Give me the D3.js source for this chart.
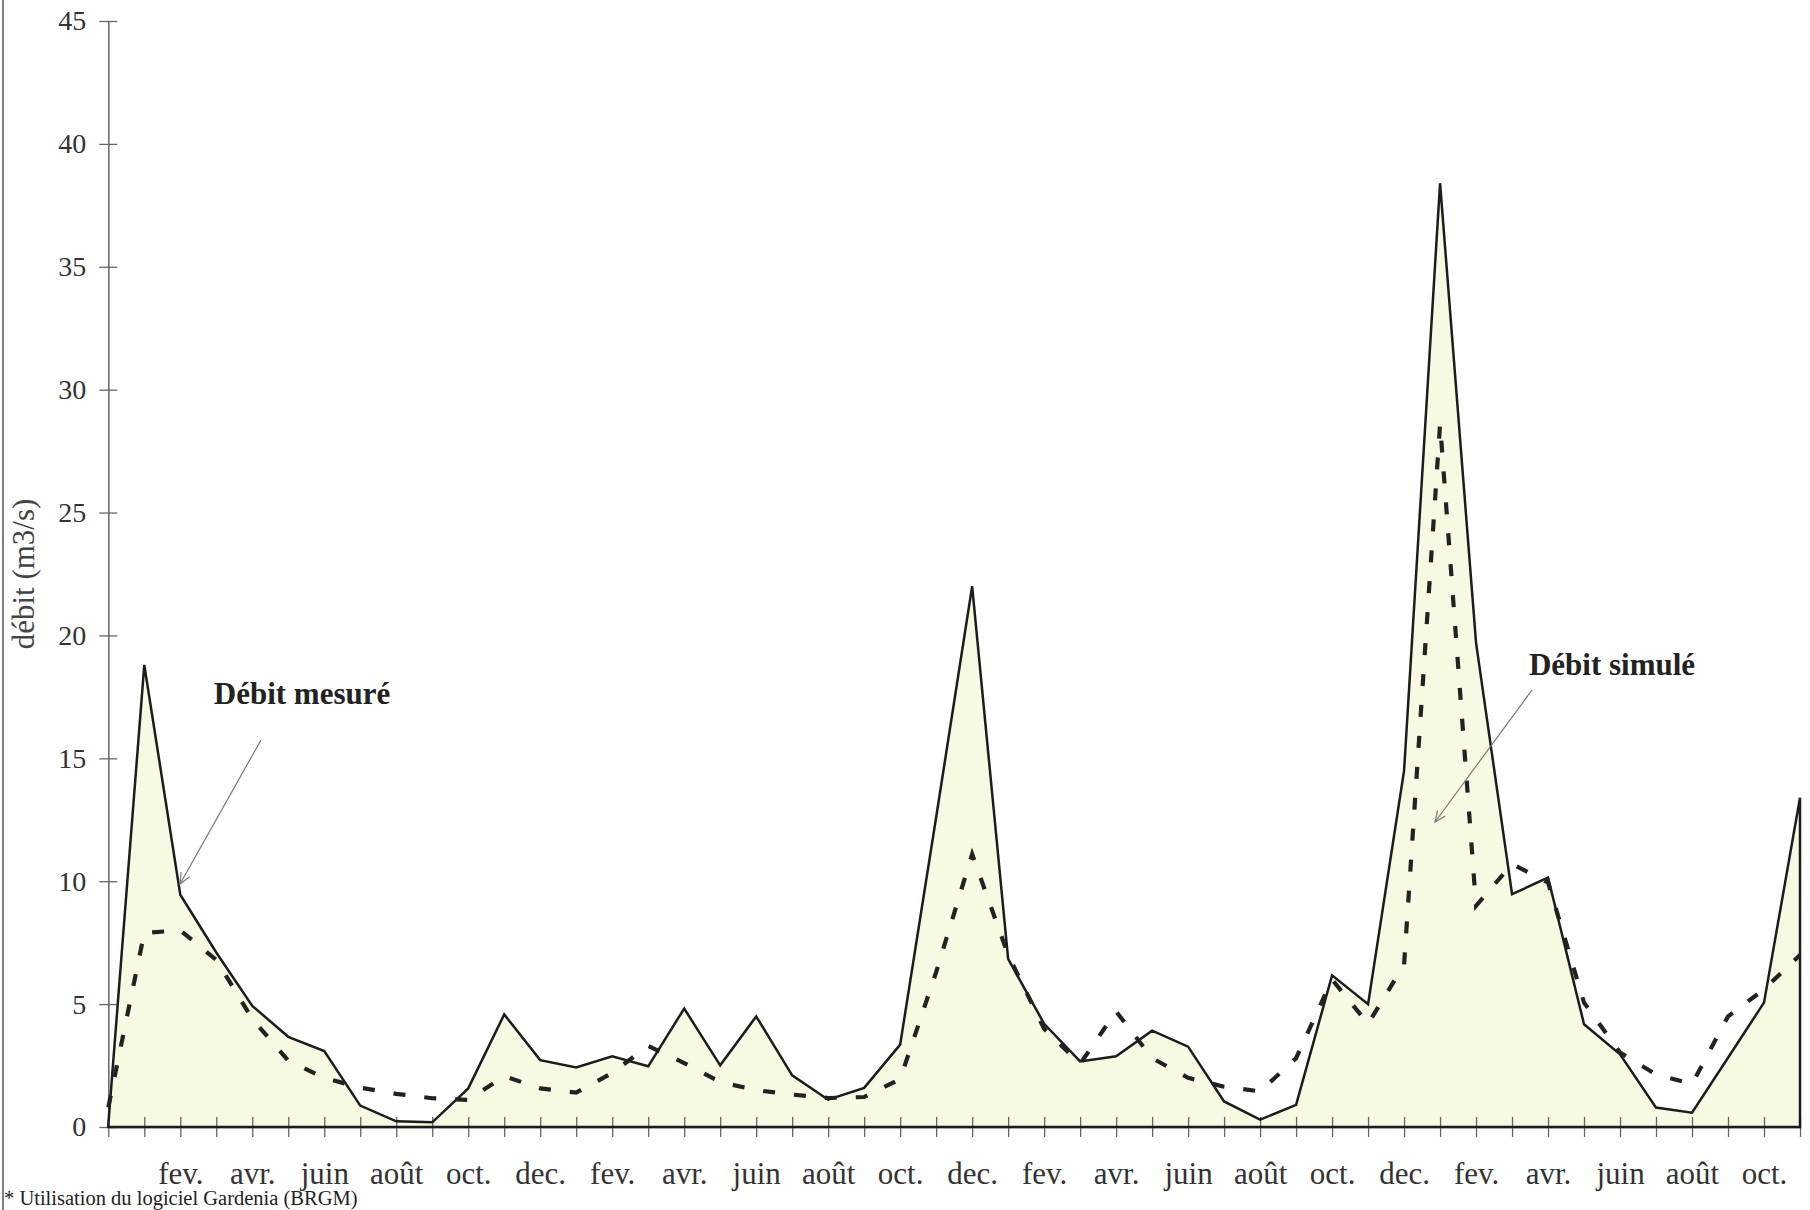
<!DOCTYPE html>
<html lang="fr">
<head>
<meta charset="utf-8">
<title>Débit mesuré / débit simulé</title>
<script src="https://d3js.org/d3.v7.min.js"></script>
<style>
  body { margin: 0; background: #fff; }
  svg { display: block; }
  text { font-family: "Liberation Serif", "Times New Roman", serif; }
</style>
</head>
<body>
<script>
// 48 mois, de décembre à novembre
var months = ["dec.", "janv.", "fev.", "mars", "avr.", "mai", "juin", "juil.", "août", "sept.", "oct.", "nov.",
              "dec.", "janv.", "fev.", "mars", "avr.", "mai", "juin", "juil.", "août", "sept.", "oct.", "nov.",
              "dec.", "janv.", "fev.", "mars", "avr.", "mai", "juin", "juil.", "août", "sept.", "oct.", "nov.",
              "dec.", "janv.", "fev.", "mars", "avr.", "mai", "juin", "juil.", "août", "sept.", "oct.", "nov."];

// débit mesuré (m3/s)
var mesure = [0.1, 18.8, 9.45, 7.1, 4.93, 3.67, 3.09, 0.87, 0.23, 0.19, 1.57, 4.58,
              2.72, 2.42, 2.88, 2.47, 4.82, 2.51, 4.5, 2.1, 1.11, 1.59, 3.35, 12.6,
              22.0, 6.84, 4.2, 2.67, 2.88, 3.92, 3.27, 1.04, 0.3, 0.9, 6.17, 5.0,
              14.5, 38.4, 19.7, 9.47, 10.15, 4.18, 2.96, 0.79, 0.58, 2.82, 5.06, 13.4];

// débit simulé (m3/s)
var simule = [0.8, 7.9, 8.0, 6.8, 4.4, 2.7, 2.0, 1.6, 1.35, 1.17, 1.1, 2.07,
              1.57, 1.4, 2.2, 3.3, 2.6, 1.83, 1.5, 1.32, 1.18, 1.22, 1.95, 6.3,
              11.1, 7.0, 4.0, 2.57, 4.7, 2.8, 2.0, 1.64, 1.45, 2.8, 6.0, 4.2,
              6.6, 28.6, 9.0, 10.7, 9.95, 5.06, 3.03, 2.14, 1.75, 4.5, 5.6, 7.0];

var yTicks = [0, 5, 10, 15, 20, 25, 30, 35, 40, 45];

var w = 1810, h = 1210;
var svg = d3.select("body").append("svg")
            .attr("width", w)
            .attr("height", h);

var x = d3.scaleLinear().domain([0, months.length - 1]).range([108.3, 1800]);
var y = d3.scaleLinear().domain([0, 45]).range([1127, 21]);

// cadre gauche du document scanné
svg.append("line")
   .attr("x1", 3).attr("x2", 3).attr("y1", 0).attr("y2", h)
   .attr("stroke", "#555").attr("stroke-width", 1.5);

// surface du débit mesuré
var area = d3.area()
             .x(function(d, i){ return x(i); })
             .y0(y(0))
             .y1(function(d){ return y(d); });

svg.append("path")
   .datum(mesure)
   .attr("d", area)
   .attr("fill", "#f8f9e3")
   .attr("stroke", "none");

// axes
var xAxis = d3.axisBottom(x)
              .tickValues(d3.range(months.length))
              .tickSizeInner(10).tickSizeOuter(0).tickPadding(25)
              .tickFormat(function(i){ return (i % 2 === 0 && i > 0) ? months[i] : ""; });

var gx = svg.append("g").attr("transform", "translate(0," + y(0) + ")").call(xAxis);
gx.selectAll(".tick line").attr("y1", -10).attr("y2", 10);

var yAxis = d3.axisLeft(y)
              .tickValues(yTicks)
              .tickSizeInner(9).tickSizeOuter(0).tickPadding(13);

var gy = svg.append("g").attr("transform", "translate(" + x(0) + ",0)").call(yAxis);
gy.selectAll(".tick line").attr("x1", -9).attr("x2", 9);

[gx, gy].forEach(function(g){
    g.select(".domain").attr("stroke", "#666").attr("stroke-width", 1.5);
    g.selectAll(".tick line").attr("stroke", "#666").attr("stroke-width", 1.3);
    g.selectAll("text")
     .attr("font-family", "'Liberation Serif', serif")
     .attr("font-size", 28)
     .attr("fill", "#333");
});
gx.selectAll("text").attr("font-size", 31);

// contour du débit mesuré (avec les bords verticaux)
svg.append("path")
   .datum(mesure)
   .attr("d", area)
   .attr("fill", "none")
   .attr("stroke", "#1c1c1c")
   .attr("stroke-width", 2.5)
   .attr("stroke-linejoin", "miter");

// débit simulé en tirets
var line = d3.line()
             .x(function(d, i){ return x(i); })
             .y(function(d){ return y(d); });

svg.append("path")
   .datum(simule)
   .attr("d", line)
   .attr("fill", "none")
   .attr("stroke", "#222")
   .attr("stroke-width", 4.2)
   .attr("stroke-dasharray", "12,19");

// titre de l'axe vertical
svg.append("text")
   .attr("transform", "translate(34,574) rotate(-90)")
   .attr("text-anchor", "middle")
   .attr("font-size", 31)
   .attr("fill", "#444")
   .text("débit (m3/s)");

// annotations
function arrow(x1, y1, x2, y2){
    var a = Math.atan2(y2 - y1, x2 - x1);
    var len = 12, spread = 0.42;
    var g = svg.append("g").attr("stroke", "#777").attr("stroke-width", 1.2).attr("fill", "none");
    g.append("line").attr("x1", x1).attr("y1", y1).attr("x2", x2).attr("y2", y2);
    g.append("path").attr("d",
        "M" + (x2 - len * Math.cos(a - spread)) + "," + (y2 - len * Math.sin(a - spread)) +
        "L" + x2 + "," + y2 +
        "L" + (x2 - len * Math.cos(a + spread)) + "," + (y2 - len * Math.sin(a + spread)));
}

svg.append("text")
   .attr("x", 302).attr("y", 704)
   .attr("text-anchor", "middle")
   .attr("font-size", 31).attr("font-weight", "bold")
   .attr("fill", "#222")
   .text("Débit mesuré");
arrow(261, 740, 180, 884);

svg.append("text")
   .attr("x", 1612).attr("y", 675)
   .attr("text-anchor", "middle")
   .attr("font-size", 31).attr("font-weight", "bold")
   .attr("fill", "#222")
   .text("Débit simulé");
arrow(1532, 690, 1435, 822);

// note de bas de page
svg.append("text")
   .attr("x", 4).attr("y", 1205)
   .attr("font-size", 20.5)
   .attr("fill", "#222")
   .text("* Utilisation du logiciel Gardenia (BRGM)");
</script>
</body>
</html>
